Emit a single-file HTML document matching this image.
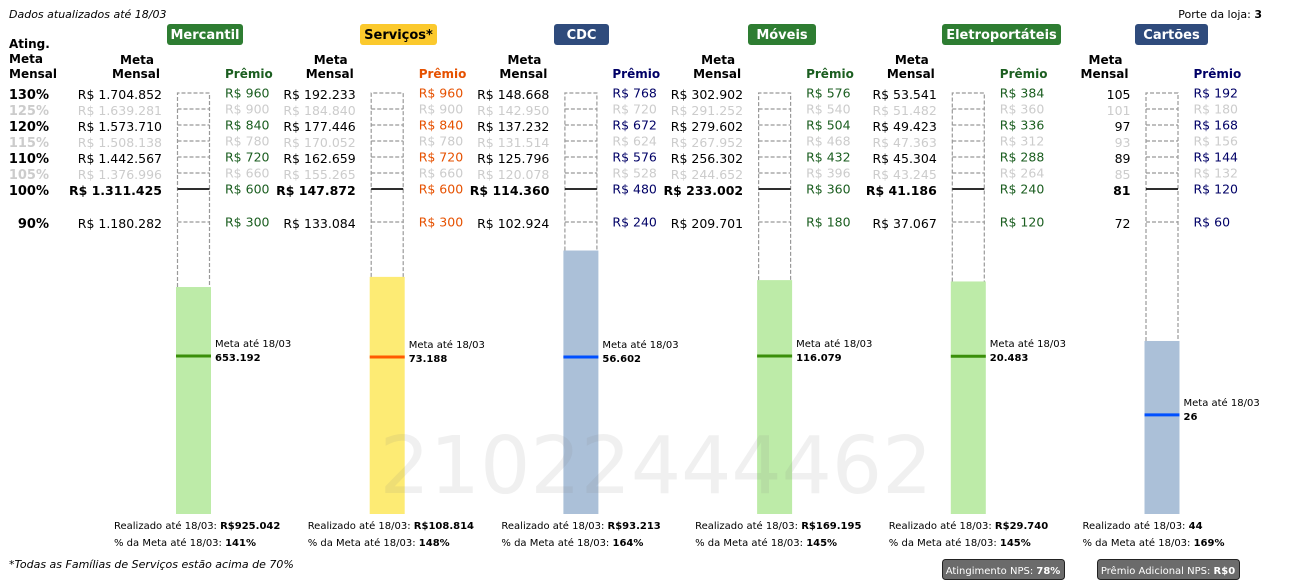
<!DOCTYPE html>
<html><head><meta charset="utf-8">
<style>
html,body{margin:0;padding:0;background:#fff;}
svg{display:block;font-family:"DejaVu Sans","Liberation Sans",sans-serif;}
</style></head>
<body>
<svg id="chart" width="1308" height="585" viewBox="0 0 1308 585" xmlns="http://www.w3.org/2000/svg">
<text x="9" y="18" font-size="11" font-style="italic">Dados atualizados até 18/03</text>
<text x="1262" y="18" font-size="11" text-anchor="end">Porte da loja: <tspan font-weight="bold">3</tspan></text>
<g font-size="12" font-weight="bold">
<text x="9" y="48">Ating.</text><text x="9" y="63">Meta</text><text x="9" y="78">Mensal</text>
</g>
<text x="9" y="568" font-size="11" font-style="italic">*Todas as Famílias de Serviços estão acima de 70%</text>
<g>
<rect x="942.5" y="559.5" width="122" height="20" rx="3" fill="#6b6b6b" stroke="#222"/>
<text x="1003" y="574" font-size="10" fill="#fff" text-anchor="middle">Atingimento NPS: <tspan font-weight="bold">78%</tspan></text>
</g>
<g>
<rect x="1097.5" y="559.5" width="142" height="20" rx="3" fill="#6b6b6b" stroke="#222"/>
<text x="1168" y="574" font-size="10" fill="#fff" text-anchor="middle">Prêmio Adicional NPS: <tspan font-weight="bold">R$0</tspan></text>
</g>
</svg>
<script>
// ---- data ----
const families = ["Mercantil","Serviços*","CDC","Móveis","Eletroportáteis","Cartões"];
const pctLevels = [130,125,120,115,110,105,100,90];
const metaMensal = [
 ["R$ 1.704.852","R$ 1.639.281","R$ 1.573.710","R$ 1.508.138","R$ 1.442.567","R$ 1.376.996","R$ 1.311.425","R$ 1.180.282"],
 ["R$ 192.233","R$ 184.840","R$ 177.446","R$ 170.052","R$ 162.659","R$ 155.265","R$ 147.872","R$ 133.084"],
 ["R$ 148.668","R$ 142.950","R$ 137.232","R$ 131.514","R$ 125.796","R$ 120.078","R$ 114.360","R$ 102.924"],
 ["R$ 302.902","R$ 291.252","R$ 279.602","R$ 267.952","R$ 256.302","R$ 244.652","R$ 233.002","R$ 209.701"],
 ["R$ 53.541","R$ 51.482","R$ 49.423","R$ 47.363","R$ 45.304","R$ 43.245","R$ 41.186","R$ 37.067"],
 ["105","101","97","93","89","85","81","72"]
];
const premios = [
 ["R$ 960","R$ 900","R$ 840","R$ 780","R$ 720","R$ 660","R$ 600","R$ 300"],
 ["R$ 960","R$ 900","R$ 840","R$ 780","R$ 720","R$ 660","R$ 600","R$ 300"],
 ["R$ 768","R$ 720","R$ 672","R$ 624","R$ 576","R$ 528","R$ 480","R$ 240"],
 ["R$ 576","R$ 540","R$ 504","R$ 468","R$ 432","R$ 396","R$ 360","R$ 180"],
 ["R$ 384","R$ 360","R$ 336","R$ 312","R$ 288","R$ 264","R$ 240","R$ 120"],
 ["R$ 192","R$ 180","R$ 168","R$ 156","R$ 144","R$ 132","R$ 120","R$ 60"]
];
const metaMonthly = [1311425,147872,114360,233002,41186,81];
const metaToDate = [653192,73188,56602,116079,20483,26];
const metaToDateLabel = ["653.192","73.188","56.602","116.079","20.483","26"];
const realized = [925042,108814,93213,169195,29740,44];
const realizedLabel = ["R$925.042","R$108.814","R$93.213","R$169.195","R$29.740","44"];
const pctLabel = ["141%","148%","164%","145%","145%","169%"];
const watermark = "21022444462";
// ---- styling ----
const headX = [167,360,554,748,942,1135];
const headW = [76,77,55,68,119,73];
const headBg = ["#2e7d32","#fbc92d","#2f4b7c","#2e7d32","#2e7d32","#2f4b7c"];
const headFg = ["#fff","#000","#fff","#fff","#fff","#fff"];
const premColor = ["#1b5e20","#e65100","#000066","#1b5e20","#1b5e20","#000066"];
const barColor = ["#bdeba8","#fdeb74","#abc0d8","#bdeba8","#bdeba8","#abc0d8"];
const lineColor = ["#3a8f0a","#ff5a00","#0050ff","#3a8f0a","#3a8f0a","#0050ff"];

const NS="http://www.w3.org/2000/svg";
const svg=document.getElementById('chart');
function mk(tag,attrs,parent){const e=document.createElementNS(NS,tag);for(const k in attrs)e.setAttribute(k,attrs[k]);(parent||svg).appendChild(e);return e;}
const Y0=521.7, Y100=189, BOT=514;
function yVal(frac){return Math.max(Y0-frac*(Y0-Y100), 60);}
function yLevel(p){return p>=100 ? 189-(p-100)*3.2 : 189+(100-p)*3.3;}
const strong=[true,false,true,false,true,false,true,true];

pctLevels.forEach((p,i)=>{
 const t=mk('text',{x:49,y:yLevel(p)+6,'font-size':13,'font-weight':'bold','text-anchor':'end',fill:strong[i]?'#000':'#cccccc'});
 
 
 t.textContent=p+'%';
});

families.forEach((f,k)=>{
 const o=k*193.7;
 const g=mk('g',{});
 
 
 const r=mk('rect',{x:headX[k],y:24,width:headW[k],height:21,rx:3,fill:headBg[k]},g);
 
 
 const ht=mk('text',{x:headX[k]+headW[k]/2,y:39,'font-size':13,'font-weight':'bold','text-anchor':'middle',fill:headFg[k]},g);
 
 
 ht.textContent=f;
 const m1=mk('text',{x:137+o,y:64,'font-size':12,'font-weight':'bold','text-anchor':'middle'},g);
 
 
 m1.textContent='Meta';
 const m2=mk('text',{x:160+o,y:78,'font-size':12,'font-weight':'bold','text-anchor':'end'},g);
 
 
 m2.textContent='Mensal';
 const pt=mk('text',{x:225+o,y:78,'font-size':12,'font-weight':'bold',fill:premColor[k]},g);
 
 
 pt.textContent='Prêmio';
 const top=yVal(realized[k]/metaMonthly[k]);
 const bar=mk('rect',{x:176+o,y:top,width:35,height:BOT-top,fill:barColor[k]},g);
 
 
 const yt=yLevel(130);
 const bs=mk('path',{d:`M${177.5+o},${top} V${yt} H${209.5+o} V${top}`,fill:'none',stroke:'#999','stroke-dasharray':'4,2','stroke-width':1.2},g);
 
 
 pctLevels.forEach((p,i)=>{
  const y=yLevel(p);
  if(i>0){
   const ln=mk('line',{x1:177.5+o,x2:209.5+o,y1:y,y2:y,stroke:p===100?'#111':'#999','stroke-width':p===100?1.8:1.2,'stroke-dasharray':p===100?'none':'4,2'},g);
   
   
  }
  const mt=mk('text',{x:162+o,y:y+6,'font-size':12.5,'text-anchor':'end',fill:strong[i]?'#000':'#cccccc','font-weight':p===100?'bold':'normal'},g);
  
  
  mt.textContent=metaMensal[k][i];
  const pr=mk('text',{x:225+o,y:y+4.5,'font-size':12.5,fill:strong[i]?premColor[k]:'#cccccc'},g);
  
  
  pr.textContent=premios[k][i];
 });
 const ym=yVal(metaToDate[k]/metaMonthly[k]);
 const ml=mk('line',{x1:176+o,x2:211+o,y1:ym,y2:ym,stroke:lineColor[k],'stroke-width':3},g);
 
 
 const ma=mk('text',{x:215+o,y:ym-9,'font-size':10},g);
 
 
 ma.textContent='Meta até 18/03';
 const mv=mk('text',{x:215+o,y:ym+5,'font-size':10,'font-weight':'bold'},g);
 
 
 mv.textContent=metaToDateLabel[k];
 const rt=mk('text',{x:114+o,y:529,'font-size':10},g);
 
 
 rt.innerHTML='Realizado até 18/03: <tspan font-weight="bold">'+realizedLabel[k]+'</tspan>';
 const pc=mk('text',{x:114+o,y:546,'font-size':10},g);
 
 
 pc.innerHTML='% da Meta até 18/03: <tspan font-weight="bold">'+pctLabel[k]+'</tspan>';
});
const wm=mk('text',{x:656,y:493,'font-size':79,'text-anchor':'middle',fill:'#808080','fill-opacity':0.12});


wm.textContent=watermark;
</script>
</body></html>
